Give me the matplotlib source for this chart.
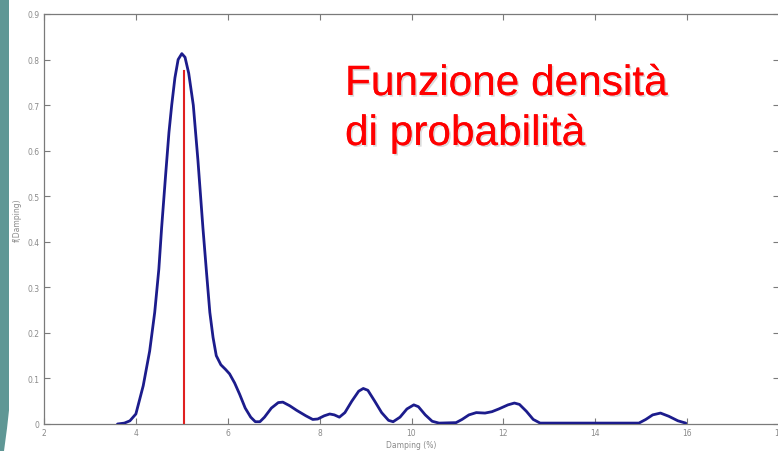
import matplotlib
matplotlib.use("Agg")
import matplotlib.pyplot as plt
import matplotlib.patheffects as pe
from matplotlib.patches import Polygon

# Estimated density of damping values (%)
damping = [3.6, 3.75, 3.87, 4.0, 4.16, 4.3, 4.41, 4.5, 4.56, 4.65, 4.72, 4.78,
           4.85, 4.92, 5.0, 5.07, 5.15, 5.25, 5.35, 5.46, 5.54, 5.61, 5.68,
           5.75, 5.85, 5.95, 6.04, 6.15, 6.26, 6.38, 6.5, 6.6, 6.7, 6.8, 6.95,
           7.1, 7.2, 7.35, 7.5, 7.7, 7.85, 7.96, 8.1, 8.22, 8.32, 8.43, 8.55,
           8.7, 8.85, 8.95, 9.05, 9.2, 9.35, 9.5, 9.6, 9.75, 9.9, 10.05, 10.15,
           10.3, 10.45, 10.6, 10.97, 11.1, 11.25, 11.41, 11.6, 11.75, 11.9,
           12.1, 12.24, 12.35, 12.5, 12.65, 12.8, 14.95, 15.1, 15.25, 15.42,
           15.6, 15.8, 15.97]
density = [0.0, 0.002, 0.007, 0.022, 0.084, 0.16, 0.245, 0.34, 0.43, 0.55,
           0.64, 0.70, 0.76, 0.80, 0.813, 0.805, 0.77, 0.70, 0.58, 0.43, 0.33,
           0.245, 0.19, 0.15, 0.13, 0.12, 0.11, 0.09, 0.065, 0.035, 0.015,
           0.005, 0.005, 0.015, 0.035, 0.047, 0.048, 0.04, 0.03, 0.018, 0.01,
           0.011, 0.018, 0.022, 0.02, 0.015, 0.025, 0.05, 0.072, 0.078, 0.074,
           0.05, 0.025, 0.008, 0.005, 0.015, 0.033, 0.042, 0.038, 0.02, 0.006,
           0.002, 0.003, 0.01, 0.02, 0.025, 0.024, 0.027, 0.033, 0.042, 0.046,
           0.043, 0.028, 0.01, 0.002, 0.002, 0.01, 0.02, 0.024, 0.017, 0.007,
           0.002]

# Reference damping value and its marker height
ref_damping = 5.04
ref_height = 0.775

x_ticks = [2, 4, 6, 8, 10, 12, 14, 16, 18]
y_ticks = [0, 0.1, 0.2, 0.3, 0.4, 0.5, 0.6, 0.7, 0.8, 0.9]
y_tick_labels = ["0", "0.1", "0.2", "0.3", "0.4", "0.5", "0.6", "0.7", "0.8", "0.9"]

title_lines = ["Funzione densità", "di probabilità"]

W, H = 778, 452
fig = plt.figure(figsize=(W / 100, H / 100), dpi=100)
fig.patch.set_facecolor("white")

# Teal slide border on the left
teal = "#5f9795"
bar = Polygon([(0, 1), (9 / W, 1), (9 / W, 0.09), (7 / W, 0.05), (4 / W, 0.0), (0, 0)],
              closed=True, transform=fig.transFigure, facecolor=teal,
              edgecolor="none", zorder=0)
fig.patches.append(bar)

left, right, bottom, top = 44, 779, 425, 15
ax = fig.add_axes([left / W, (H - bottom) / H, (right - left) / W, (bottom - top) / H])

ax.plot(damping, density, color="#1c1c8c", lw=2.0, solid_capstyle="round",
        solid_joinstyle="round", zorder=3)
ax.plot([ref_damping, ref_damping], [0, ref_height], color="#e02020", lw=1.5, zorder=4)

ax.set_xlim(2, 18)
ax.set_ylim(0, 0.9)
ax.set_xticks(x_ticks)
ax.set_yticks(y_ticks)
ax.set_yticklabels(y_tick_labels)

gray = "#8a8a8a"
for s in ax.spines.values():
    s.set_color("#7a7a7a")
    s.set_linewidth(0.9)
ax.tick_params(direction="in", length=4, width=0.8, color="#7a7a7a",
               labelsize=5.5, labelcolor=gray, top=True, right=True, pad=3)
ax.set_xlabel("Damping (%)", fontsize=5.5, color=gray, labelpad=2)
ax.set_ylabel("f(Damping)", fontsize=5.5, color=gray, labelpad=4)

shadow = [pe.withSimplePatchShadow(offset=(1.2, -1.2), shadow_rgbFace="#999999", alpha=0.35),
          pe.Normal()]
for i, line in enumerate(title_lines):
    fig.text(345 / W, 1 - (96 + 50 * i) / H, line,
             fontsize=30.5, color="#ff0000", family=["Liberation Sans", "DejaVu Sans"],
             ha="left", va="baseline", path_effects=shadow)

fig.savefig("out.png", dpi=100, facecolor="white")
